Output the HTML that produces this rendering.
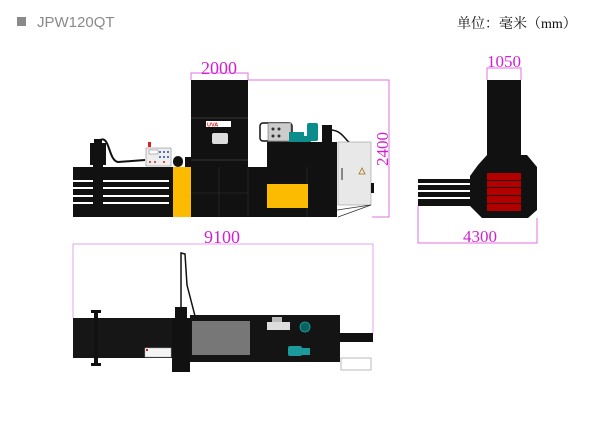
<!DOCTYPE html>
<html><head><meta charset="utf-8"><style>
html,body{margin:0;padding:0;background:#fff;width:600px;height:433px;overflow:hidden}
svg{display:block}
</style></head><body>
<svg width="600" height="433" viewBox="0 0 600 433" xmlns="http://www.w3.org/2000/svg">
<rect x="17" y="17" width="9" height="9" fill="#8a8a8a"/>
<text x="37" y="27" font-family="Liberation Sans, sans-serif" font-size="15" fill="#8a8a8a">JPW120QT</text>
<text x="457" y="28" font-family="Liberation Serif, 'Noto Serif CJK SC', serif" font-size="14" fill="#111">单位：毫米（mm）</text>

<g stroke="#e070e0" stroke-width="1" fill="none">
<polyline points="191,80 191,73 248,73 248,80"/>
<polyline points="248,80 389,80 389,217 372,217"/>
</g>
<text x="219" y="74" text-anchor="middle" font-family="Liberation Serif, serif" font-size="18" fill="#d020d0">2000</text>
<text transform="translate(388,149) rotate(-90)" text-anchor="middle" font-family="Liberation Serif, serif" font-size="17" fill="#d020d0">2400</text>

<rect x="73" y="167" width="100" height="50" fill="#111"/>
<g fill="#fff">
<rect x="73" y="180" width="20" height="2"/><rect x="103" y="180" width="66" height="2"/>
<rect x="73" y="187" width="20" height="2"/><rect x="103" y="187" width="66" height="2"/>
<rect x="73" y="195" width="20" height="2"/><rect x="103" y="195" width="66" height="2"/>
<rect x="73" y="202" width="20" height="2"/><rect x="103" y="202" width="66" height="2"/>
</g>
<rect x="93" y="160" width="10" height="57" fill="#111"/>
<rect x="90" y="143" width="16" height="22" fill="#111"/>
<rect x="94" y="139" width="8" height="6" fill="#111"/>
<path d="M100,140 C110,135 108,160 118,162 L145,160" stroke="#111" stroke-width="2" fill="none"/>
<rect x="146" y="148" width="25" height="18" fill="#eee" stroke="#888" stroke-width="0.6"/>
<rect x="149" y="150" width="9" height="4" fill="#fff" stroke="#777" stroke-width="0.5"/>
<g fill="#34a"><circle cx="160" cy="152" r="1"/><circle cx="164" cy="152" r="1"/><circle cx="168" cy="152" r="1"/><circle cx="160" cy="157" r="1"/><circle cx="164" cy="157" r="1"/><circle cx="168" cy="157" r="1"/></g>
<g fill="#c22"><circle cx="150" cy="162" r="1"/><circle cx="155" cy="162" r="1"/><circle cx="164" cy="162" r="1"/></g>
<rect x="148" y="142" width="3" height="5" fill="#d22"/>
<rect x="173" y="156" width="10" height="11" rx="5" fill="#111"/>
<rect x="185" y="157" width="6" height="10" fill="#111"/>
<rect x="173" y="167" width="18" height="50" fill="#fdbb00"/>

<rect x="191" y="80" width="57" height="87" fill="#111"/>
<line x1="191" y1="118" x2="248" y2="118" stroke="#444" stroke-width="0.8"/>
<line x1="191" y1="160" x2="248" y2="160" stroke="#444" stroke-width="0.8"/>
<rect x="206" y="121" width="25" height="6" fill="#fff"/>
<text x="207" y="126.5" font-family="Liberation Sans, sans-serif" font-size="5.5" font-weight="bold" fill="#c22">UVA</text>
<rect x="212" y="133" width="16" height="11" rx="2" fill="#ddd"/>

<rect x="191" y="167" width="146" height="50" fill="#111"/>
<g stroke="#333" stroke-width="0.6"><line x1="219" y1="167" x2="219" y2="217"/><line x1="248" y1="167" x2="248" y2="217"/><line x1="191" y1="193" x2="248" y2="193"/><line x1="307" y1="167" x2="307" y2="217"/></g>
<rect x="267" y="184" width="41" height="24" fill="#fdbb00"/>
<rect x="267" y="142" width="70" height="25" fill="#111"/>
<rect x="260" y="123" width="32" height="18" rx="3" fill="none" stroke="#111" stroke-width="1.5"/>
<rect x="268" y="123" width="23" height="18" fill="#ccc" stroke="#555" stroke-width="0.5"/>
<g fill="#333"><circle cx="273" cy="129" r="1.5"/><circle cx="279" cy="129" r="1.5"/><circle cx="273" cy="136" r="1.5"/><circle cx="279" cy="136" r="1.5"/></g>
<rect x="289" y="132" width="15" height="10" fill="#0d8c8c"/>
<rect x="307" y="123" width="11" height="18" rx="2" fill="#0d8c8c"/>
<rect x="303" y="136" width="8" height="6" fill="#0d8c8c"/>
<rect x="322" y="125" width="10" height="17" fill="#111"/>
<path d="M330,130 C342,130 345,140 350,143" stroke="#111" stroke-width="1.5" fill="none"/>
<rect x="338" y="142" width="33" height="63" fill="#e8e8e8" stroke="#999" stroke-width="0.6"/>
<rect x="341" y="168" width="2" height="12" fill="#888"/>
<polygon points="359,174 362,168 365,174" fill="none" stroke="#a07000" stroke-width="0.8"/>
<rect x="371" y="183" width="3" height="10" fill="#111"/>
<polyline points="338,217 371,205 337,210" stroke="#333" stroke-width="0.8" fill="none"/>

<polyline points="73,318 73,244 373,244 373,333" stroke="#e8a0e8" stroke-width="1" fill="none"/>
<text x="222" y="243" text-anchor="middle" font-family="Liberation Serif, serif" font-size="18" fill="#d020d0">9100</text>

<rect x="73" y="318" width="100" height="40" fill="#161616"/>
<rect x="145" y="348" width="26" height="9" fill="#f4f4f4" stroke="#aaa" stroke-width="0.5"/>
<rect x="146" y="349" width="2" height="2" fill="#c22"/>
<rect x="94" y="311" width="4" height="54" fill="#111"/>
<rect x="91" y="310" width="10" height="3" fill="#111"/>
<rect x="91" y="363" width="10" height="3" fill="#111"/>
<rect x="172" y="318" width="18" height="54" fill="#111"/>
<rect x="175" y="307" width="12" height="12" fill="#111"/>
<path d="M181,308 L181,253 L185,254 L187,285 L195,316" stroke="#111" stroke-width="1.5" fill="none"/>
<rect x="190" y="315" width="150" height="47" fill="#141414"/>
<rect x="192" y="321" width="58" height="34" fill="#777"/>
<rect x="267" y="322" width="23" height="8" fill="#ddd"/>
<rect x="272" y="317" width="10" height="5" fill="#bbb"/>
<circle cx="305" cy="327" r="5" fill="#0d6060" stroke="#1aa" stroke-width="0.8"/>
<rect x="288" y="346" width="14" height="10" rx="2" fill="#1a9a9a"/>
<rect x="302" y="348" width="8" height="7" fill="#1a9a9a"/>
<rect x="340" y="333" width="33" height="9" fill="#111"/>
<rect x="341" y="358" width="30" height="12" fill="#fff" stroke="#aaa" stroke-width="0.8"/>

<polyline points="487,80 487,68 521,68 521,80" stroke="#e070e0" stroke-width="1" fill="none"/>
<text x="504" y="67" text-anchor="middle" font-family="Liberation Serif, serif" font-size="17" fill="#d020d0">1050</text>
<rect x="487" y="80" width="34" height="76" fill="#111"/>
<polygon points="478,165 487,155 527,155 537,167 537,210 528,218 482,218 470,206 470,176" fill="#111"/>
<rect x="418" y="179" width="53" height="27" fill="#111"/>
<g fill="#fff"><rect x="418" y="183" width="52" height="2"/><rect x="418" y="190" width="52" height="2"/><rect x="418" y="197" width="52" height="2"/></g>
<rect x="487" y="173" width="34" height="38" fill="#b00000"/>
<g fill="#300"><rect x="487" y="180" width="34" height="1"/><rect x="487" y="187" width="34" height="1"/><rect x="487" y="195" width="34" height="1"/><rect x="487" y="203" width="34" height="1"/></g>
<polyline points="418,206 418,243 537,243 537,218" stroke="#e070e0" stroke-width="1" fill="none"/>
<text x="480" y="242" text-anchor="middle" font-family="Liberation Serif, serif" font-size="17" fill="#d020d0">4300</text>
</svg>
</body></html>
